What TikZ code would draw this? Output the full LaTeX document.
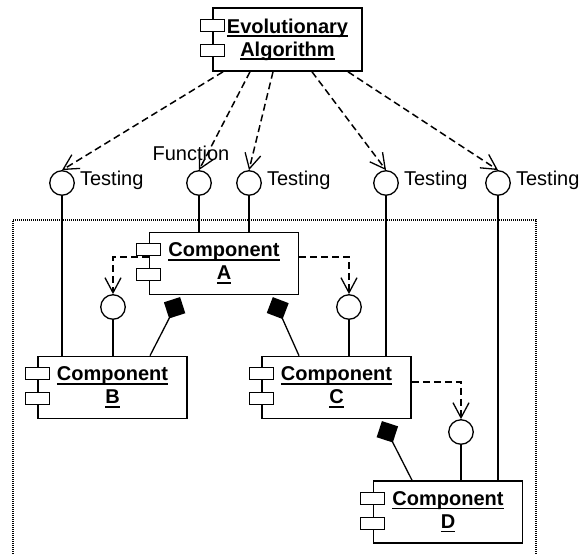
\documentclass[tikz,border=0pt]{standalone}
\usepackage{fontspec}
\setmainfont{Liberation Sans}
\usetikzlibrary{arrows.meta,calc}
\newcommand{\compul}[1]{\setbox0=\hbox{#1}\rlap{\rule[-4pt]{\wd0}{1.7pt}}\box0}
\newcommand{\ports}[1]{%
  \draw[port] ([shift={(-12pt,-12pt)}]#1.north west) rectangle ++(24pt,-12pt);
  \draw[port] ([shift={(-12pt,-37pt)}]#1.north west) rectangle ++(24pt,-12pt);}
\tikzset{
  comp/.style={draw, line width=1.6pt, fill=white, minimum width=149pt, minimum height=62pt,
    inner sep=0pt, align=center, font=\fontsize{20}{23}\selectfont\bfseries},
  port/.style={draw, line width=1.1pt, fill=white},
  iface/.style={circle, draw, line width=1.3pt, minimum size=24.5pt, inner sep=0pt, fill=white},
  lbl/.style={font=\fontsize{20}{23}\selectfont, inner sep=0pt},
  dep/.style={line width=1.5pt, dash pattern=on 7pt off 4pt,
    -{Straight Barb[length=15pt,width=16pt,line width=1.3pt]}},
  link/.style={line width=1.3pt},
  compline/.style={line width=1.3pt, shorten >=2pt, -{Diamond[length=24pt,width=24pt]}},
  frame/.style={line width=1.2pt, dash pattern=on 1pt off 1pt}
}
\begin{document}
\begin{tikzpicture}[x=1pt,y=-1pt]
\useasboundingbox (0,0) rectangle (588,554);
\draw[frame] (13,554) -- (13,220) -- (536,220) -- (536,554);

% components
\node[comp, minimum height=63pt] (EA) at (287.5,39.5) {\compul{Evolutionary}\\\compul{Algorithm}};
\node[comp] (A) at (224,263.5) {\compul{Component}\\\compul{A}};
\node[comp] (B) at (112.5,387.5) {\compul{Component}\\\compul{B}};
\node[comp] (C) at (336.5,387.5) {\compul{Component}\\\compul{C}};
\node[comp] (D) at (448,512) {\compul{Component}\\\compul{D}};

% interfaces
\node[iface] (t1) at (62,183) {};
\node[iface] (t2) at (199,183) {};
\node[iface] (t3) at (249,183) {};
\node[iface] (t4) at (386,183) {};
\node[iface] (t5) at (498,183) {};
\node[iface] (iAB) at (113,307) {};
\node[iface] (iAC) at (349,307) {};
\node[iface] (iCD) at (461,432) {};

% labels
\node[lbl, anchor=base west] (l1) at ([xshift=5pt,yshift=-2pt]t1.east) {Testing};
\node[lbl, anchor=base] (l2) at ([xshift=-8pt,yshift=10pt]t2.north) {Function};
\node[lbl, anchor=base west] (l3) at ([xshift=5pt,yshift=-2pt]t3.east) {Testing};
\node[lbl, anchor=base west] (l4) at ([xshift=5pt,yshift=-2pt]t4.east) {Testing};
\node[lbl, anchor=base west] (l5) at ([xshift=5pt,yshift=-2pt]t5.east) {Testing};

% dependencies from the algorithm
\draw[dep] ([xshift=-64.5pt]EA.south) -- (t1.north);
\draw[dep] ([xshift=-37.5pt]EA.south) -- (t2.north);
\draw[dep] ([xshift=-14.5pt]EA.south) -- (t3.north);
\draw[dep] ([xshift=24.5pt]EA.south) -- (t4.north);
\draw[dep] ([xshift=60.5pt]EA.south) -- (t5.north);

% interface realisations
\draw[link] (t1.south) -- (t1.south |- B.north);
\draw[link] (t2.south) -- (t2.south |- A.north);
\draw[link] (t3.south) -- (t3.south |- A.north);
\draw[link] (t4.south) -- (t4.south |- C.north);
\draw[link] (t5.south) -- (t5.south |- D.north);
\draw[link] (iAB.south) -- (iAB.south |- B.north);
\draw[link] (iAC.south) -- (iAC.south |- C.north);
\draw[link] (iCD.south) -- (iCD.south |- D.north);

% component dependencies
\draw[dep] ([yshift=6.5pt]A.west) -| (iAB.north);
\draw[dep] ([yshift=6.5pt]A.east) -| (iAC.north);
\draw[dep] ([yshift=5.5pt]C.east) -| (iCD.north);

% compositions
\draw[compline] ([xshift=37.5pt]B.north) -- ([xshift=-43pt]A.south);
\draw[compline] ([xshift=-37.5pt]C.north) -- ([xshift=48pt]A.south);
\draw[compline] ([xshift=-36pt]D.north) -- ([xshift=44.5pt]C.south);

% ports
\ports{EA}
\ports{A}
\ports{B}
\ports{C}
\ports{D}
\end{tikzpicture}
\end{document}
